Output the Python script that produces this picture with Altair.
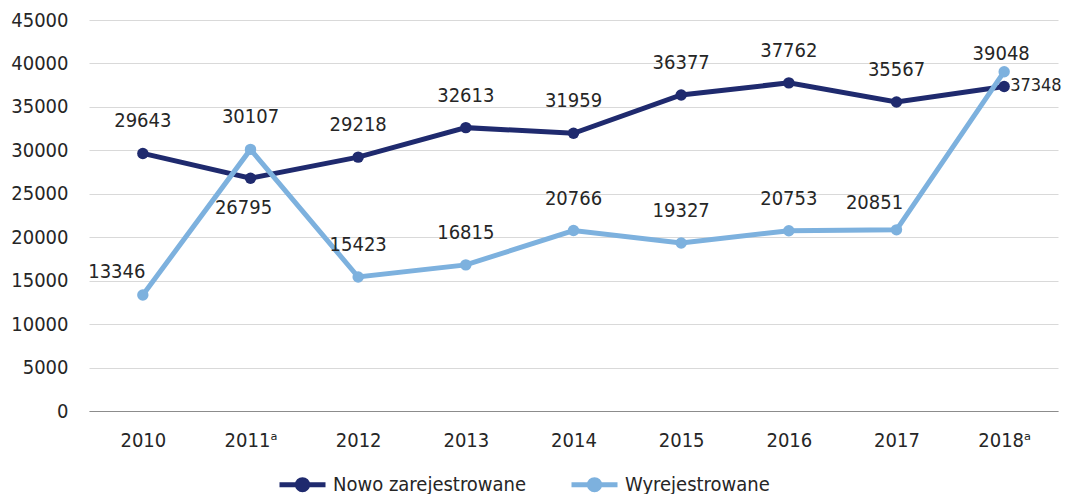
import altair as alt
import pandas as pd

years = ["2010", "2011ᵃ", "2012", "2013", "2014", "2015", "2016", "2017", "2018ᵃ"]
nowo = [29643, 26795, 29218, 32613, 31959, 36377, 37762, 35567, 37348]
wyrej = [13346, 30107, 15423, 16815, 20766, 19327, 20753, 20851, 39048]
series_names = ["Nowo zarejestrowane", "Wyrejestrowane"]
colors = ["#1f2a6e", "#7db1de"]
y_ticks = [0, 5000, 10000, 15000, 20000, 25000, 30000, 35000, 40000, 45000]

rows = []
for i, yr in enumerate(years):
    rows.append({"rok": yr, "seria": series_names[0], "wartosc": nowo[i], "idx": i})
    rows.append({"rok": yr, "seria": series_names[1], "wartosc": wyrej[i], "idx": i})
df = pd.DataFrame(rows)

FONT = "DejaVu Sans Condensed"
TXT = "#262626"

x_enc = alt.X("rok:N", sort=years, scale=alt.Scale(type="point", padding=0.5),
              axis=alt.Axis(title=None, labelAngle=0, ticks=False, domainColor="#8c8c8c",
                            domainWidth=1.2, labelPadding=19, labelFontSize=20,
                            labelColor=TXT, labelFont=FONT, grid=False))
y_enc = alt.Y("wartosc:Q", scale=alt.Scale(domain=[0, 45000], nice=False),
              axis=alt.Axis(title=None, values=y_ticks, format="d", domain=False, ticks=False,
                            labelPadding=21, labelFontSize=20, labelColor=TXT, labelFont=FONT,
                            gridColor="#d9d9d9", gridWidth=1))
color_enc = alt.Color("seria:N", scale=alt.Scale(domain=series_names, range=colors),
                      legend=alt.Legend(title=None, orient="none", direction="horizontal",
                                        legendX=188, legendY=439,
                                        symbolType="M-1,0H1M-0.22,0a0.22,0.22 0 1,0 0.44,0a0.22,0.22 0 1,0 -0.44,0",
                                        symbolSize=2116, symbolStrokeWidth=5,
                                        labelFontSize=20, labelFont=FONT, labelColor=TXT,
                                        labelLimit=500, labelOffset=5, columnPadding=34))

base = alt.Chart(df)

lines = base.mark_line(strokeWidth=5, point=alt.OverlayMarkDef(size=130, filled=True, opacity=1)).encode(
    x=x_enc, y=y_enc, color=color_enc, order="idx:Q")

txt_common = dict(font=FONT, color=TXT, baseline="middle")

lab_above = base.mark_text(dy=-32, fontSize=20, **txt_common).encode(
    x=alt.X("rok:N", sort=years), y="wartosc:Q", text="wartosc:Q"
).transform_filter(
    "(datum.seria == 'Nowo zarejestrowane' && datum.idx != 1 && datum.idx != 8) || "
    "(datum.seria == 'Wyrejestrowane' && datum.idx != 0 && datum.idx != 7 && datum.idx != 8)")

lab_below = base.mark_text(dy=30, dx=-7, fontSize=20, **txt_common).encode(
    x=alt.X("rok:N", sort=years), y="wartosc:Q", text="wartosc:Q"
).transform_filter("datum.seria == 'Nowo zarejestrowane' && datum.idx == 1")

lab_right = base.mark_text(dx=6, align="left", fontSize=18, **txt_common).encode(
    x=alt.X("rok:N", sort=years), y="wartosc:Q", text="wartosc:Q"
).transform_filter("datum.seria == 'Nowo zarejestrowane' && datum.idx == 8")

lab_w2018 = base.mark_text(dy=-18, dx=-3, fontSize=20, **txt_common).encode(
    x=alt.X("rok:N", sort=years), y="wartosc:Q", text="wartosc:Q"
).transform_filter("datum.seria == 'Wyrejestrowane' && datum.idx == 8")

lab_w2010 = base.mark_text(dy=-23, dx=-26, fontSize=20, **txt_common).encode(
    x=alt.X("rok:N", sort=years), y="wartosc:Q", text="wartosc:Q"
).transform_filter("datum.seria == 'Wyrejestrowane' && datum.idx == 0")

lab_w2017 = base.mark_text(dy=-27, dx=-22, fontSize=20, **txt_common).encode(
    x=alt.X("rok:N", sort=years), y="wartosc:Q", text="wartosc:Q"
).transform_filter("datum.seria == 'Wyrejestrowane' && datum.idx == 7")

chart = alt.layer(lines, lab_above, lab_below, lab_right, lab_w2018, lab_w2010, lab_w2017).properties(
    width=969, height=391,
    autosize=alt.AutoSizeParams(type="none"),
    padding={"left": 81, "top": 12, "right": 4, "bottom": 83},
    background="white",
).configure_view(stroke=None)

chart.save("out.html", embed_options={"renderer": "svg", "actions": False})
